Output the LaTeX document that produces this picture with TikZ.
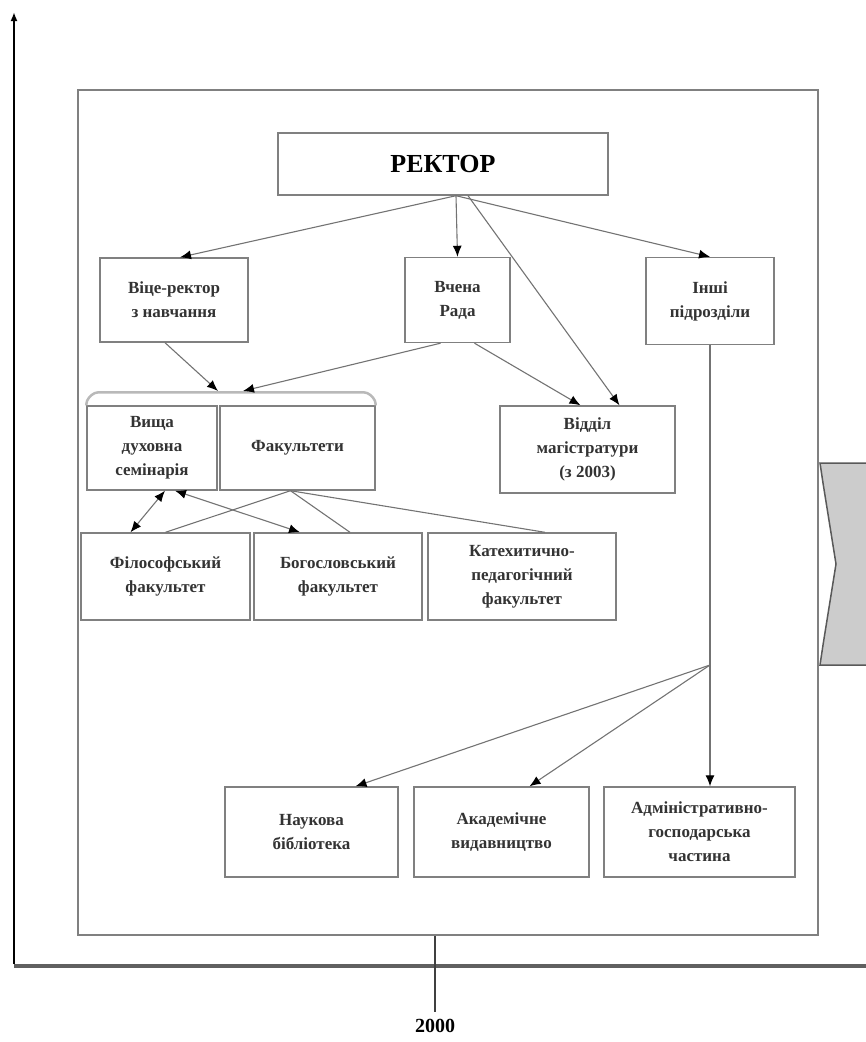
\documentclass[tikz,border=0pt]{standalone}
\usepackage{fontspec}
\setmainfont{Liberation Serif}
\usetikzlibrary{arrows.meta,calc}

\begin{document}
\begin{tikzpicture}[x=1pt, y=-1pt,
		box_style/.style={rectangle,draw=gray,line width=1.4pt,fill=white,align=center,inner sep=0pt,
			text=black!80,font=\bfseries\fontsize{17}{24}\selectfont},
		edge_style/.style={draw=gray!90!black,line width=1.1pt},
		arrow_style/.style={edge_style,-{Latex[length=11pt,width=9pt,color=black]}},
		both_style/.style={edge_style,{Latex[length=11pt,width=9pt,color=black]}-{Latex[length=11pt,width=9pt,color=black]}}]
		
		\useasboundingbox (0,0) rectangle (866,1042);
		
		% axes
		\coordinate (o) at (14,966);
		\coordinate (ytop) at (14,12);
		\coordinate (xend) at (866,966);
		\draw[line width=4.5pt,gray!75!black] (o) -- (xend);
		\draw[line width=2pt,-{Latex[length=9pt,width=7pt]}] ([yshift=2pt]o) -- (ytop);
		
		% frame and side marker
		\node[draw=gray,line width=2pt,minimum width=740pt,minimum height=845pt] (frame) at (448,512.5) {};
		\draw[draw=black!65,fill=gray!40,line width=1.5pt] (820,463) -- (870,463) -- (870,665) -- (820,665)
		-- (823,645) -- (836,564) -- (823,483) -- cycle;
		
		\node[box_style,minimum width=330pt,minimum height=62pt,font=\bfseries\fontsize{26}{30}\selectfont,text=black] (rector) at (443,164) {РЕКТОР};
		\node[box_style,minimum width=148pt,minimum height=84pt] (vice) at (174,300) {Віце-ректор\\з навчання};
		\node[box_style,minimum width=105pt,minimum height=85pt] (rada) at (457.5,300) {Вчена\\Рада};
		\node[box_style,minimum width=128pt,minimum height=87pt] (units) at (710,301) {Інші\\підрозділи};
		\node[box_style,minimum width=130pt,minimum height=84pt] (sem) at (152,448) {Вища\\духовна\\семінарія};
		\node[box_style,minimum width=155pt,minimum height=84pt] (fac) at (297.5,448) {Факультети};
		\node[box_style,minimum width=175pt,minimum height=87pt] (mag) at (587.5,449.5) {Відділ\\магістратури\\(з 2003)};
		\node[box_style,minimum width=169pt,minimum height=87pt] (phil) at (165.5,576.5) {Філософський\\факультет};
		\node[box_style,minimum width=168pt,minimum height=87pt] (theol) at (338,576.5) {Богословський\\факультет};
		\node[box_style,minimum width=188pt,minimum height=87pt] (cat) at (522,576.5) {Катехитично-\\педагогічний\\факультет};
		\node[box_style,minimum width=173pt,minimum height=90pt] (lib) at (311.5,832) {Наукова\\бібліотека};
		\node[box_style,minimum width=175pt,minimum height=90pt] (pub) at (501.5,832) {Академічне\\видавництво};
		\node[box_style,minimum width=191pt,minimum height=90pt] (adm) at (699.5,832) {Адміністративно-\\господарська\\частина};
		
		% bracket over seminary and faculties
		\draw[gray!55,line width=2.5pt,rounded corners=4pt] (sem.north west) -- ++(0,-5) -- ++(8,-8)
		-- ([shift={(-8,-13)}]fac.north east) -- ++(8,8) -- (fac.north east);
		\coordinate (bl) at (218,391);
		\coordinate (br) at (243,391);
		\coordinate (rs) at ($(rector.south)+(13,0)$);
		\coordinate (split) at (710,665);
		
		\draw[arrow_style] (rs) -- ([xshift=6pt]vice.north);
		\draw[arrow_style] (rs) -- (rada.north);
		\draw[arrow_style] (rs) -- (units.north);
		\draw[arrow_style] ([xshift=25pt]rector.south) -- ([xshift=32pt]mag.north);
		\draw[arrow_style] ([xshift=-9pt]vice.south) -- (bl);
		\draw[arrow_style] ([xshift=-17pt]rada.south) -- (br);
		\draw[arrow_style] ([xshift=17pt]rada.south) -- ([xshift=-7pt]mag.north);
		\draw[both_style] ([xshift=13pt]sem.south) -- ([xshift=-35pt]phil.north);
		\draw[both_style] ([xshift=23pt]sem.south) -- ([xshift=-38pt]theol.north);
		\draw[edge_style] ([xshift=-7pt]fac.south) edge (phil.north)
		edge ([xshift=12pt]theol.north) edge ([xshift=23pt]cat.north);
		\draw[edge_style] (units.south) -- (split);
		\draw[arrow_style] (split) -- (adm.north -| split);
		\draw[arrow_style] (split) -- ([xshift=44pt]lib.north);
		\draw[arrow_style] (split) -- ([xshift=28pt]pub.north);
		
		% year tick
		\node[font=\bfseries\fontsize{20}{24}\selectfont,inner sep=0pt] (year) at (435,1026) {2000};
		\draw[line width=2.5pt,black!75] ([xshift=-13pt]frame.south) -- ([yshift=7pt]year.north);
		
\end{tikzpicture}
\end{document}
